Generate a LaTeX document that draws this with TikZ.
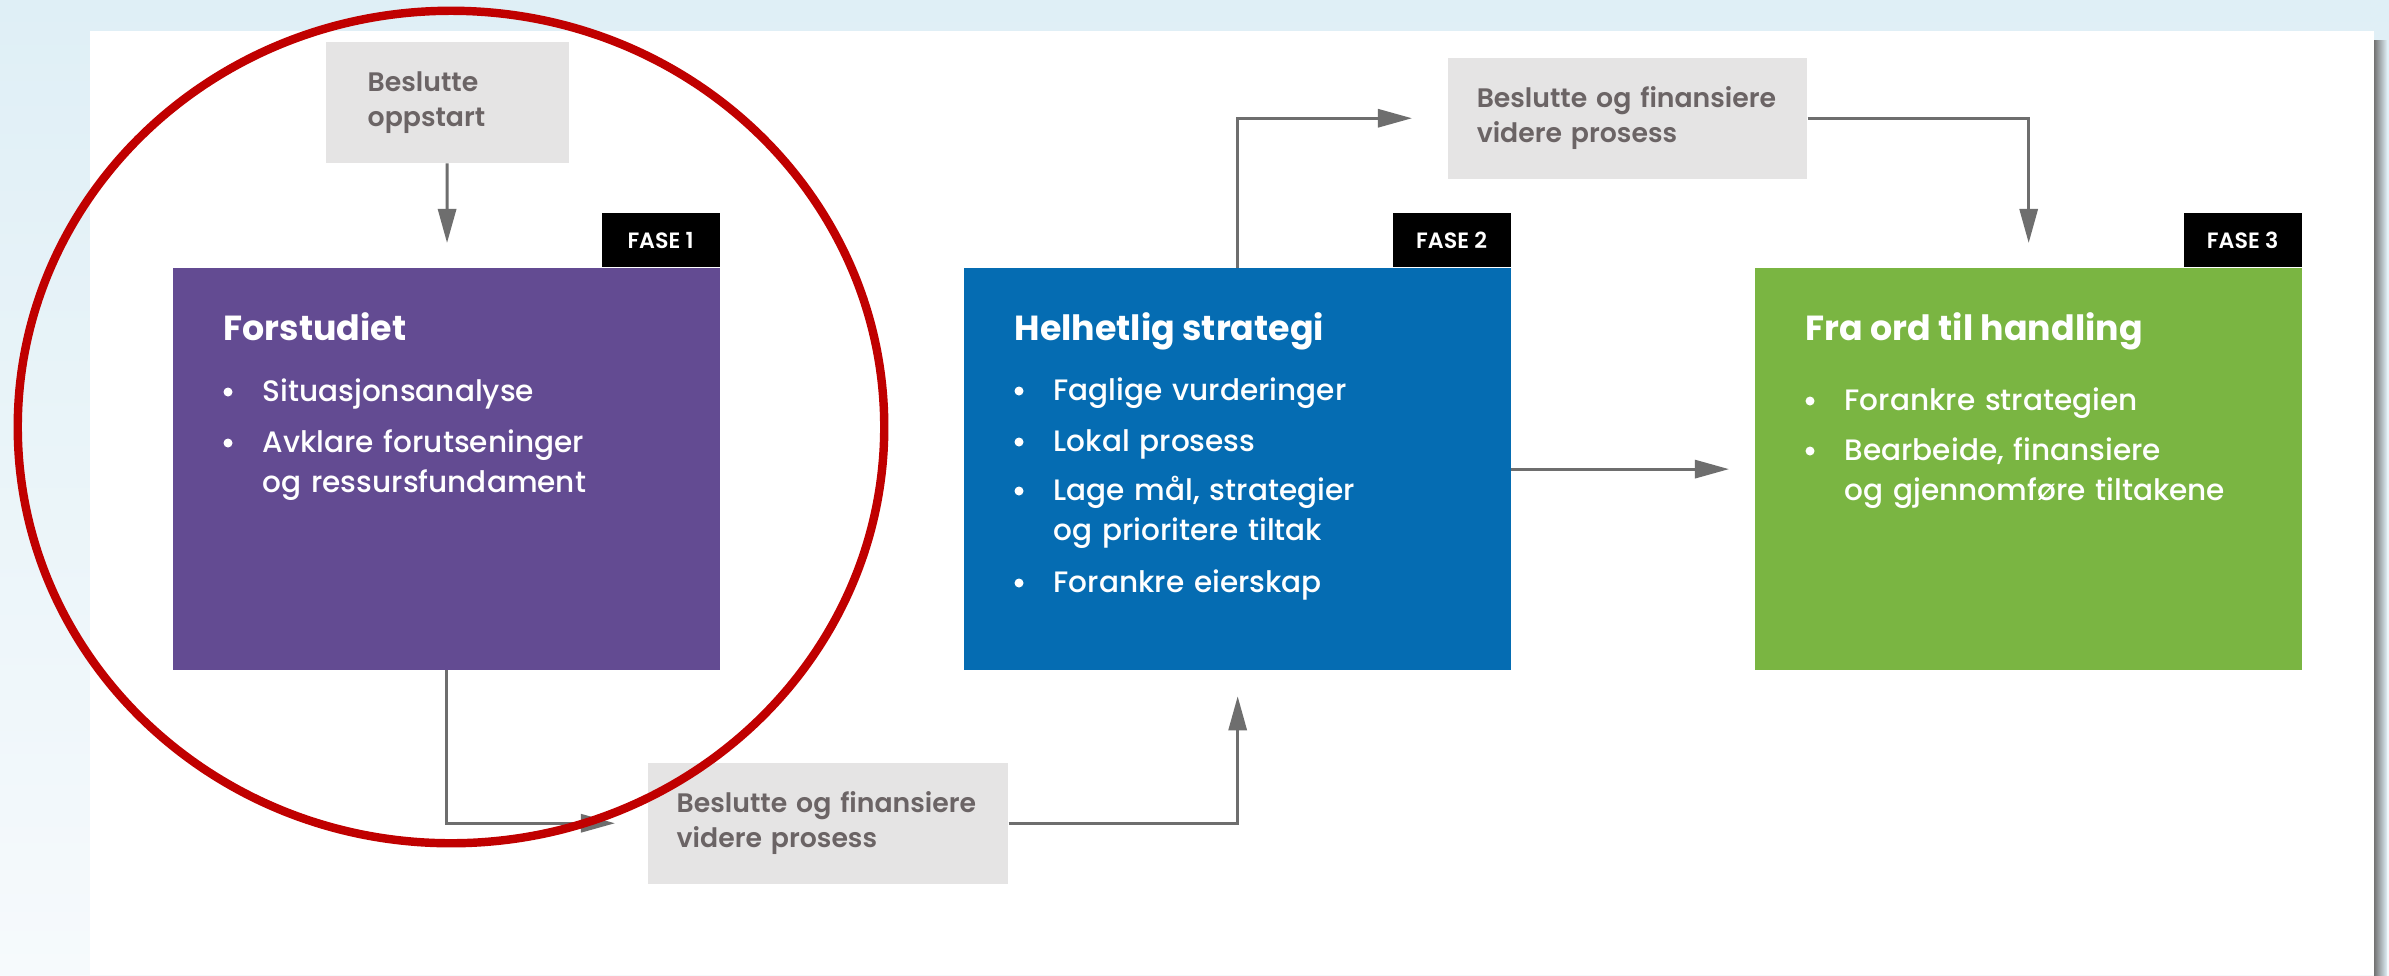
\documentclass[tikz,border=0pt]{standalone}
\usepackage{fontspec}
\setmainfont{Poppins}
\newfontfamily\medfont{Poppins Medium}
\newfontfamily\semifont{Poppins SemiBold}
\usetikzlibrary{arrows.meta}

\definecolor{fasepurple}{HTML}{634B92}
\definecolor{faseblue}{HTML}{056CB2}
\definecolor{fasegreen}{HTML}{7AB542}
\definecolor{decgray}{HTML}{E5E4E4}
\definecolor{decink}{HTML}{6B6465}
\definecolor{flowgray}{HTML}{6E6E6E}
\definecolor{ringred}{HTML}{C00000}
\definecolor{bgtop}{HTML}{DFEFF6}
\definecolor{bgbottom}{HTML}{F6FAFC}

\tikzset{
  phase/.style={anchor=north west, minimum width=5.47cm, minimum height=4.02cm, inner sep=0pt, outer sep=0pt},
  fasetag/.style={anchor=south east, fill=black, text=white, minimum width=1.18cm, minimum height=0.54cm,
    inner sep=0pt, font=\semifont\fontsize{6.3}{7}\selectfont},
  decision/.style={anchor=north west, fill=decgray, text=decink, align=left, minimum height=1.21cm,
    inner ysep=0pt, inner xsep=0.29cm, text width=3.02cm, font=\semifont\fontsize{7.6}{10}\selectfont},
  title/.style={anchor=base west, inner sep=0pt, text=white, font=\bfseries\fontsize{9.9}{12}\selectfont},
  item/.style={anchor=base west, inner sep=0pt, text=white, align=left, text width=4.2cm,
    font=\medfont\fontsize{8.4}{11.4}\selectfont},
  dot/.style={circle, fill=white, inner sep=0pt, minimum size=0.09cm},
  flow/.style={draw=flowgray, line width=0.85pt, -{Triangle[length=0.34cm, width=0.18cm]}},
  ring/.style={draw=ringred, line width=2.4pt},
}

\begin{document}
\begin{tikzpicture}[x=0.01cm, y=-0.01cm]
  \useasboundingbox (0,0) rectangle (2389,975);
  % backdrop and page
  \fill[top color=bgtop, bottom color=bgbottom] (0,0) rectangle (2389,975);
  \fill[left color=black!55, right color=bgtop] (2374,40) rectangle (2387,975);
  \fill[white] (90,31) rectangle (2374,975);

  % the three phases
  \node[phase, fill=fasepurple] (p1) at (173,268) {};
  \node[phase, fill=faseblue] (p2) at (964,268) {};
  \node[phase, fill=fasegreen] (p3) at (1755,268) {};
  \node[fasetag] (f1) at (p1.north east) {FASE 1};
  \node[fasetag] (f2) at (p2.north east) {FASE 2};
  \node[fasetag] (f3) at (p3.north east) {FASE 3};

  \node[title] (t1) at ([shift={(50,72)}]p1.north west) {Forstudiet};
  \node[title] (t2) at ([shift={(50,72)}]p2.north west) {Helhetlig strategi};
  \node[title] (t3) at ([shift={(50,72)}]p3.north west) {Fra ord til handling};

  \foreach \dy/\txt [count=\i] in {133/Situasjonsanalyse, 184/{Avklare forutseninger\\og ressursfundament}} {
    \node[dot] at ([shift={(55,\dy-9)}]p1.north west) {};
    \node[item] (p1i\i) at ([shift={(89,\dy)}]p1.north west) {\txt};
  }
  \foreach \dy/\txt [count=\i] in {132/Faglige vurderinger, 183/Lokal prosess,
      232/{Lage mål, strategier\\og prioritere tiltak}, 324/Forankre eierskap} {
    \node[dot] at ([shift={(55,\dy-9)}]p2.north west) {};
    \node[item] (p2i\i) at ([shift={(89,\dy)}]p2.north west) {\txt};
  }
  \foreach \dy/\txt [count=\i] in {142/Forankre strategien, 192/{Bearbeide, finansiere\\og gjennomføre tiltakene}} {
    \node[dot] at ([shift={(55,\dy-9)}]p3.north west) {};
    \node[item] (p3i\i) at ([shift={(89,\dy)}]p3.north west) {\txt};
  }

  % decisions between phases
  \node[decision, inner xsep=0.42cm, text width=1.59cm] (d0) at (325,41) {Beslutte\\oppstart};
  \node[decision] (d1) at (647,762) {Beslutte og finansiere\\videre prosess};
  \node[decision, text width=3.01cm] (d2) at (1447,57) {Beslutte og finansiere\\videre prosess};

  \draw[flow, shorten >=0.25cm] (d0) -- (p1);
  \draw[flow, shorten >=0.32cm] (p1) |- (d1);
  \draw[flow, shorten >=0.26cm] (d1) -| (p2);
  \draw[flow, shorten >=0.35cm] (p2) |- (d2);
  \draw[flow, shorten >=0.25cm] (d2) -| (p3);
  \draw[flow, shorten >=0.26cm] (p2) -- (p3);

  % highlight round phase 1
  \draw[ring] (451,427) ellipse [x radius=4.33cm, y radius=4.16cm];
\end{tikzpicture}
\end{document}
